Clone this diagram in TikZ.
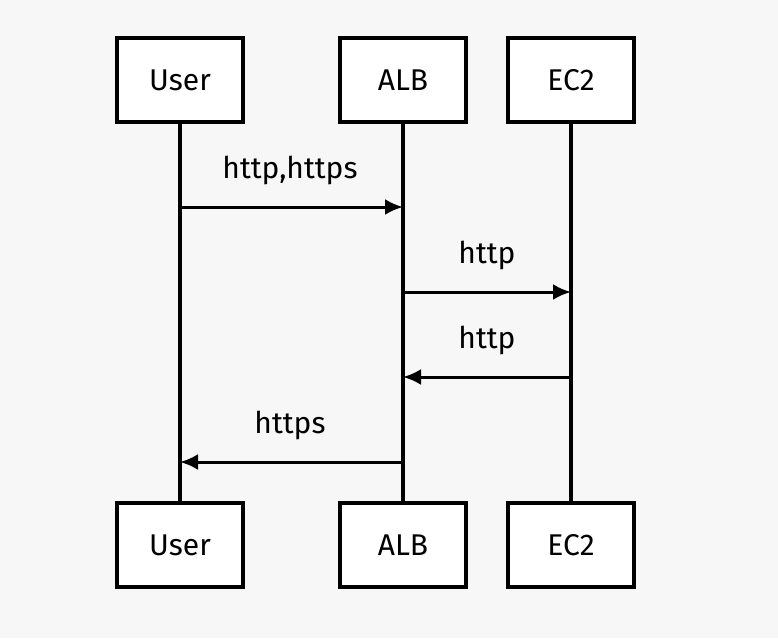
\documentclass[tikz,border=0pt]{standalone}
\usepackage{fontspec}
\setmainfont{Fira Sans}
\usetikzlibrary{arrows.meta}
\begin{document}
\begin{tikzpicture}[x=1pt,y=-1pt,
    actor/.style={draw,line width=3.5pt,fill=white,minimum width=126pt,minimum height=84pt,font=\fontsize{30}{34}\selectfont},
    msg/.style={line width=3pt,-{Latex[length=18pt,width=16pt]}},
    lbl/.style={font=\fontsize{30}{34}\selectfont}]
    \fill[black!3] (0,0) rectangle (778,638);
    \useasboundingbox (0,0) rectangle (778,638);

    \node[actor] (u1) at (180,80) {User};
    \node[actor] (a1) at (403,80) {ALB};
    \node[actor] (e1) at (571,80) {EC2};
    \node[actor] (u2) at (180,545) {User};
    \node[actor] (a2) at (403,545) {ALB};
    \node[actor] (e2) at (571,545) {EC2};

    \draw[line width=3.5pt] (u1) -- (u2);
    \draw[line width=3.5pt] (a1) -- (a2);
    \draw[line width=3.5pt] (e1) -- (e2);

    \coordinate (u207) at (180,207);
    \coordinate (a207) at (403,207);
    \coordinate (a292) at (403,292);
    \coordinate (e292) at (571,292);
    \coordinate (e377) at (571,377);
    \coordinate (a377) at (403,377);
    \coordinate (a462) at (403,462);
    \coordinate (u462) at (180,462);

    \draw[msg] (u207) -- (a207);
    \draw[msg] (a292) -- (e292);
    \draw[msg] (e377) -- (a377);
    \draw[msg] (a462) -- (u462);

    \node[lbl] (m1) at (290,170) {http,https};
    \node[lbl] (m2) at (487,255) {http};
    \node[lbl] (m3) at (487,340) {http};
    \node[lbl] (m4) at (290,425) {https};
\end{tikzpicture}
\end{document}
